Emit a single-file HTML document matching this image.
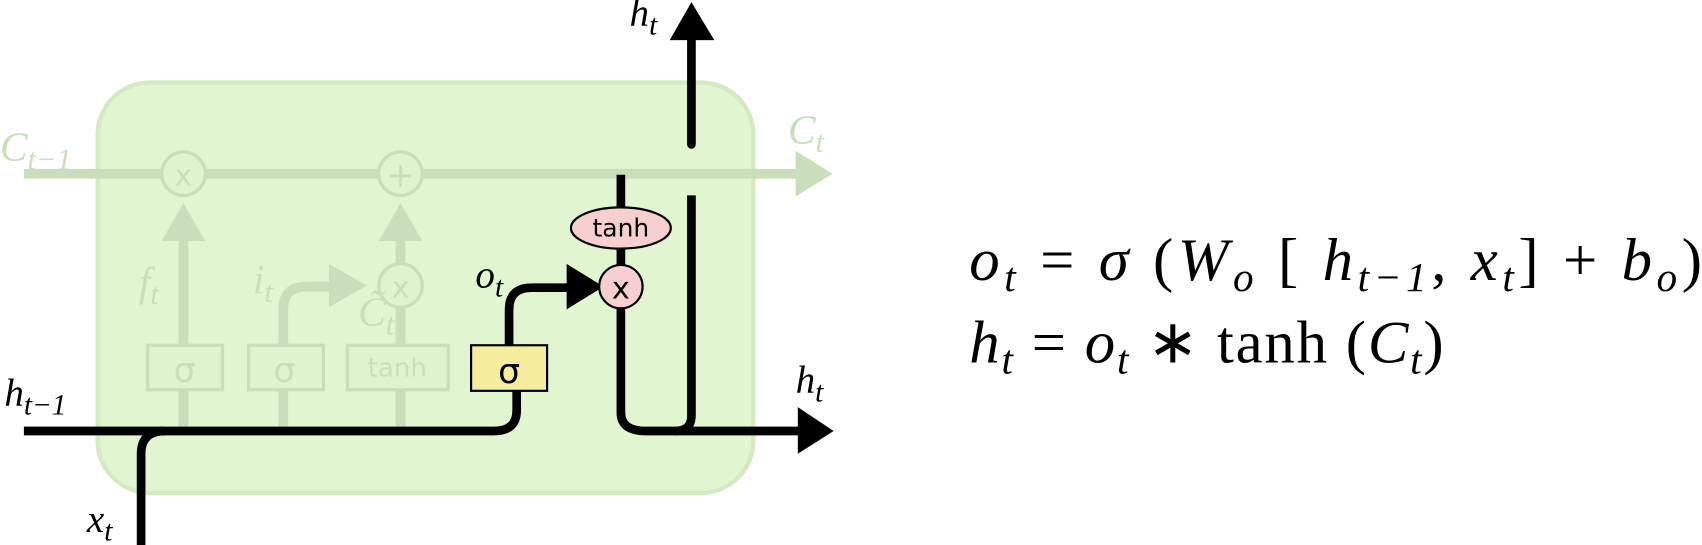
<!DOCTYPE html>
<html><head><style>html,body{margin:0;padding:0;background:#fff;width:1702px;height:545px;overflow:hidden}</style></head>
<body>
<svg width="1702" height="545" viewBox="0 0 1568 502" preserveAspectRatio="none" xmlns="http://www.w3.org/2000/svg" font-family="Liberation Serif, serif">
<rect x="90" y="76" width="604" height="378" rx="48" fill="#e0f5d0" stroke="#d3eac2" stroke-width="4"/>
<g stroke="#c9dfbb" fill="none" stroke-width="9">
<line x1="22" y1="160" x2="740" y2="160"/>
<line x1="169" y1="395" x2="169" y2="215"/>
<line x1="369" y1="395" x2="369" y2="215"/>
<line x1="261" y1="395" x2="261" y2="360"/>
<path d="M261 318 V285 Q261 264 282 264 H305"/>
</g>
<g fill="#c9dfbb">
<polygon points="733,139 767,160 733,181"/>
<polygon points="149,222 189,222 169,187"/>
<polygon points="349,222 389,222 369,187"/>
<polygon points="303,243 303,283 338,263"/>
</g>
<g fill="#e0f3cf" stroke="#c9dfbb" stroke-width="3">
<circle cx="169" cy="160" r="20"/><circle cx="369" cy="160" r="20"/><circle cx="369" cy="263" r="20"/>
<rect x="136" y="318" width="69" height="41"/><rect x="229" y="318" width="69" height="41"/><rect x="320" y="318" width="93" height="41"/>
</g>
<g fill="#c9dfbb" font-family="DejaVu Sans, sans-serif" text-anchor="middle">
<text x="169" y="171" font-size="27">x</text><text x="369" y="172" font-size="31">+</text><text x="369" y="274" font-size="27">x</text>
<text x="170" y="352" font-size="32">σ</text><text x="262" y="352" font-size="32">σ</text><text x="366" y="347" font-size="24">tanh</text>
</g>
<g fill="#c9dfbb" font-style="italic" font-size="38">
<text x="0" y="148">C<tspan font-size="28" dy="8">t−1</tspan></text>
<text x="128" y="272">f<tspan font-size="28" dy="8">t</tspan></text>
<text x="233" y="270">i<tspan font-size="28" dy="8">t</tspan></text>
<text x="330" y="300">C̃<tspan font-size="28" dy="8">t</tspan></text>
<text x="726" y="132">C<tspan font-size="28" dy="8">t</tspan></text>
</g>
<g stroke="#000" fill="none" stroke-width="8" stroke-linejoin="round">
<path d="M22 397 H455 Q476 397 476 378 V360"/>
<path d="M130 502 V418 Q130 397 152 397"/>
<path d="M469 318 V285 Q469 265 490 265 H530"/>
<path d="M572 161 V380 Q572 397 595 397 H742"/>
<path d="M637 180 V383 Q637 397 622 397"/>
<line x1="637" y1="133" x2="637" y2="33" stroke-linecap="round"/>
</g>
<g fill="#000">
<polygon points="522,243 522,285 556,264"/>
<polygon points="735,375 735,418 768,397"/>
<polygon points="617,37 658,37 637,2"/>
</g>
<ellipse cx="572" cy="210" rx="46" ry="19" fill="#f8cfd0" stroke="#000" stroke-width="2"/>
<circle cx="572" cy="264" r="20" fill="#f8cfd0" stroke="#000" stroke-width="2"/>
<rect x="434" y="318" width="70" height="42" fill="#f5ec9e" stroke="#000" stroke-width="2"/>
<g font-family="DejaVu Sans, sans-serif" text-anchor="middle" fill="#000">
<text x="572" y="218" font-size="23">tanh</text>
<text x="572" y="275" font-size="28">x</text>
<text x="469" y="353" font-size="32">σ</text>
</g>
<g font-style="italic" font-size="36" fill="#000">
<text x="4" y="374">h<tspan font-size="27" dy="8">t−1</tspan></text>
<text x="80" y="490">x<tspan font-size="27" dy="8">t</tspan></text>
<text x="438" y="265">o<tspan font-size="27" dy="8">t</tspan></text>
<text x="580" y="24">h<tspan font-size="27" dy="8">t</tspan></text>
<text x="733" y="362">h<tspan font-size="27" dy="8">t</tspan></text>
</g>
<g font-size="56" fill="#000">
<text x="893" y="258" textLength="675" lengthAdjust="spacing"><tspan font-style="italic">o</tspan><tspan font-style="italic" font-size="38" dy="10">t</tspan><tspan dy="-10"> = </tspan><tspan font-style="italic">σ</tspan> (<tspan font-style="italic">W</tspan><tspan font-style="italic" font-size="38" dy="10">o</tspan><tspan dy="-10"> [ </tspan><tspan font-style="italic">h</tspan><tspan font-style="italic" font-size="38" dy="10">t−1</tspan><tspan dy="-10">, </tspan><tspan font-style="italic">x</tspan><tspan font-style="italic" font-size="38" dy="10">t</tspan><tspan dy="-10">] + </tspan><tspan font-style="italic">b</tspan><tspan font-style="italic" font-size="38" dy="10">o</tspan><tspan dy="-10">)</tspan></text>
<text x="893" y="334" textLength="437" lengthAdjust="spacing"><tspan font-style="italic">h</tspan><tspan font-style="italic" font-size="38" dy="10">t</tspan><tspan dy="-10"> = </tspan><tspan font-style="italic">o</tspan><tspan font-style="italic" font-size="38" dy="10">t</tspan><tspan dy="-10"> ∗ tanh (</tspan><tspan font-style="italic">C</tspan><tspan font-style="italic" font-size="38" dy="10">t</tspan><tspan dy="-10">)</tspan></text>
</g>
</svg>
</body></html>
